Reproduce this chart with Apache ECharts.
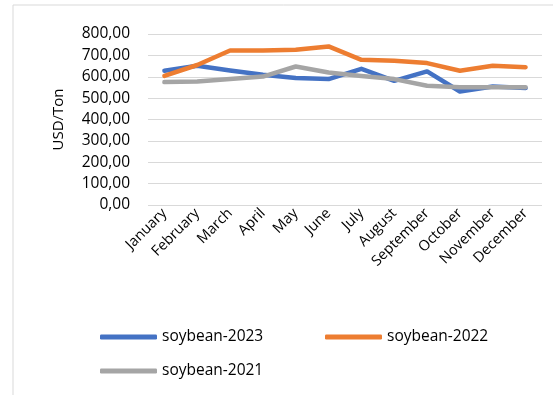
<!DOCTYPE html>
<html>
<head>
<meta charset="utf-8">
<script src="https://cdn.jsdelivr.net/npm/echarts@6/dist/echarts.min.js"></script>
<style>
  html, body { margin: 0; padding: 0; background: #fff; }
  #main { width: 553px; height: 395px; }
</style>
</head>
<body>
<div id="main"></div>
<script>
var months = ['January', 'February', 'March', 'April', 'May', 'June', 'July', 'August', 'September', 'October', 'November', 'December'];
var soy2023 = [628, 651, 629, 609, 594, 589, 637, 581, 625, 531, 554, 547];
var soy2022 = [604, 655, 723, 723, 726, 742, 679, 675, 664, 628, 651, 645];
var soy2021 = [575, 578, 589, 601, 648, 620, 604, 589, 558, 551, 551, 551];

var fontFam = '"Open Sans", "Noto Sans", sans-serif';

var myChart = echarts.init(document.getElementById('main'));

// legend text style, shared
var legText = { fontSize: 15.5, color: '#000', fontFamily: fontFam };

var option = {
    animation: false,
    textStyle: { fontFamily: fontFam },
    graphic: [{
        type: 'rect',
        shape: { x: 13, y: 5, width: 600, height: 450 },
        style: { fill: 'none', stroke: '#d9d9d9', lineWidth: 1 }
    }],
    grid: { left: 148, right: 11, top: 34, bottom: 190 },
    legend: [
        {
            data: ['soybean-2023'], left: 95, top: 324,
            icon: 'roundRect', itemWidth: 57, itemHeight: 5,
            textStyle: legText
        },
        {
            data: ['soybean-2022'], left: 320, top: 324,
            icon: 'roundRect', itemWidth: 57, itemHeight: 5,
            textStyle: legText
        },
        {
            data: ['soybean-2021'], left: 95, top: 358,
            icon: 'roundRect', itemWidth: 57, itemHeight: 5,
            textStyle: legText
        }
    ],
    xAxis: {
        type: 'category',
        data: months,
        boundaryGap: true,
        axisLine: { show: false },
        axisTick: { show: false },
        axisLabel: { rotate: 45, fontSize: 14.5, color: '#000', margin: 6, interval: 0 }
    },
    yAxis: {
        type: 'value',
        min: 0,
        max: 800,
        interval: 100,
        name: 'USD/Ton',
        nameLocation: 'middle',
        nameGap: 82,
        nameTextStyle: { fontSize: 15, color: '#000' },
        axisLabel: {
            fontSize: 15.5, color: '#000', margin: 18,
            formatter: function (v) { return v.toFixed(2).replace('.', ','); }
        },
        splitLine: { lineStyle: { color: '#d9d9d9', width: 1 } }
    },
    series: [
        {
            name: 'soybean-2023', type: 'line', data: soy2023,
            symbol: 'none', color: '#4472C4',
            lineStyle: { width: 4.5, cap: 'round', join: 'round' }
        },
        {
            name: 'soybean-2022', type: 'line', data: soy2022,
            symbol: 'none', color: '#ED7D31',
            lineStyle: { width: 4.5, cap: 'round', join: 'round' }
        },
        {
            name: 'soybean-2021', type: 'line', data: soy2021,
            symbol: 'none', color: '#A5A5A5',
            lineStyle: { width: 4.5, cap: 'round', join: 'round' }
        }
    ]
};

myChart.setOption(option);
</script>
</body>
</html>
